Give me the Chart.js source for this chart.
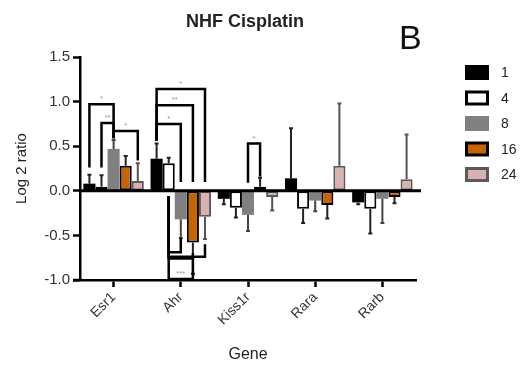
<!DOCTYPE html>
<html>
<head>
<meta charset="utf-8">
<script src="https://cdn.jsdelivr.net/npm/chart.js@4.4.0/dist/chart.umd.min.js"></script>
<style>
  html, body { margin: 0; padding: 0; background: #fff; }
</style>
</head>
<body>
<canvas id="chart" width="528" height="365"></canvas>
<script>
// genes on the x axis, one series per time point (h)
const genes = ["Esr1", "Ahr", "Kiss1r", "Rara", "Rarb"];
const timepoints = ["1", "4", "8", "16", "24"];

const h1 = [0.08, 0.36, -0.09, 0.14, -0.13];
const h4 = [0.045, 0.31, -0.19, -0.2, -0.2];
const h8 = [0.47, -0.32, -0.27, -0.11, -0.09];
const h16 = [0.28, -0.58, 0.045, -0.16, -0.07];
const h24 = [0.11, -0.29, -0.07, 0.28, 0.13];

// one sided error (SEM), drawn away from zero
const h1Err = [0.10, 0.17, 0.06, 0.56, 0.02];
const h4Err = [0.13, 0.06, 0.11, 0.16, 0.28];
const h8Err = [0.10, 0.21, 0.18, 0.12, 0.27];
const h16Err = [0.11, 0.35, 0.10, 0.15, 0.07];
const h24Err = [0.20, 0.25, 0.15, 0.70, 0.50];

const yTicks = [-1.0, -0.5, 0.0, 0.5, 1.0, 1.5];

// significance brackets: gene, from series, to series, line y, from leg end, to leg end, stars
const brackets = [
  [0, 0, 2, 0.97, 0.26, 0.59, "*"],
  [0, 1, 2, 0.76, 0.26, 0.59, "**"],
  [0, 2, 4, 0.67, 0.59, 0.34, "*"],
  [1, 0, 4, 1.14, 0.56, 0.10, "*"],
  [1, 0, 3, 0.96, 0.56, 0.10, "**"],
  [1, 0, 2, 0.75, 0.56, 0.10, "*"],
  [1, 1, 2, -0.69, -0.06, -0.53, ""],
  [1, 1, 4, -0.74, -0.06, -0.60, ""],
  [1, 1, 3, -0.76, -0.06, -0.70, ""],
  [1, 1, 3, -0.99, -0.06, -0.76, "***"],
  [2, 2, 3, 0.53, 0.09, 0.16, "*"]
];

const fills = ["#000000", "#ffffff", "#808080", "#c86400", "#d9b1b0"];
const borders = ["#000000", "#000000", "#808080", "#000000", "#5a5a5a"];
const borderW = [0, 2, 0, 2, 2];
const errColors = ["#222", "#222", "#444", "#222", "#555"];
const series = [h1, h4, h8, h16, h24];
const errors = [h1Err, h4Err, h8Err, h16Err, h24Err];

const FONT = "'Liberation Sans', Arial, sans-serif";

const extras = {
  id: "extras",
  afterDatasetsDraw(chart) {
    const { ctx, scales: { x, y } } = chart;
    ctx.save();
    // error bars
    series.forEach((vals, i) => {
      const meta = chart.getDatasetMeta(i);
      vals.forEach((v, j) => {
        const bx = meta.data[j].x;
        const end = v + (v >= 0 ? errors[i][j] : -errors[i][j]);
        const y0 = y.getPixelForValue(v);
        const y1 = y.getPixelForValue(end);
        ctx.strokeStyle = errColors[i];
        ctx.lineWidth = 2;
        ctx.beginPath();
        ctx.moveTo(bx, y0);
        ctx.lineTo(bx, y1);
        ctx.moveTo(bx - 2, y1);
        ctx.lineTo(bx + 2, y1);
        ctx.stroke();
      });
    });
    // zero line
    const yz = y.getPixelForValue(0);
    ctx.strokeStyle = "#000";
    ctx.lineWidth = 3;
    ctx.beginPath();
    ctx.moveTo(x.left, yz);
    ctx.lineTo(x.right + 5, yz);
    ctx.stroke();
    // brackets
    ctx.lineWidth = 2.5;
    ctx.font = "8px " + FONT;
    ctx.textAlign = "center";
    ctx.textBaseline = "alphabetic";
    brackets.forEach(([g, a, b, ly, ya, yb, txt]) => {
      const xa = chart.getDatasetMeta(a).data[g].x;
      const xb = chart.getDatasetMeta(b).data[g].x;
      const py = y.getPixelForValue(ly);
      ctx.strokeStyle = "#000";
      ctx.beginPath();
      ctx.moveTo(xa, y.getPixelForValue(ya));
      ctx.lineTo(xa, py);
      ctx.lineTo(xb, py);
      ctx.lineTo(xb, y.getPixelForValue(yb));
      ctx.stroke();
      if (txt) {
        ctx.fillStyle = "#999";
        ctx.fillText(txt, (xa + xb) / 2, py - 3);
      }
    });
    ctx.restore();
  },
  afterDraw(chart) {
    const { ctx, chartArea, scales: { x, y } } = chart;
    ctx.save();
    // x axis runs a little past the y axis
    ctx.strokeStyle = "#000";
    ctx.lineWidth = 2.5;
    ctx.beginPath();
    ctx.moveTo(chartArea.left - 7, chartArea.bottom);
    ctx.lineTo(chartArea.left, chartArea.bottom);
    ctx.stroke();

    const cx = (chartArea.left + chartArea.right) / 2;
    ctx.fillStyle = "#222";
    ctx.textAlign = "center";
    ctx.textBaseline = "middle";
    ctx.font = "bold 18px " + FONT;
    ctx.fillText("NHF Cisplatin", cx - 3, 22);

    ctx.font = "16px " + FONT;
    ctx.fillText("Gene", cx, 355);

    ctx.save();
    ctx.translate(22, (chartArea.top + chartArea.bottom) / 2);
    ctx.rotate(-Math.PI / 2);
    ctx.font = "15px " + FONT;
    ctx.fillText("Log 2 ratio", 0, 0);
    ctx.restore();

    ctx.fillStyle = "#111";
    ctx.textAlign = "left";
    ctx.textBaseline = "alphabetic";
    ctx.font = "34px 'Liberation Sans Narrow', " + FONT;
    ctx.fillText("B", 399, 49);

    // legend
    ctx.font = "14px " + FONT;
    ctx.textBaseline = "middle";
    timepoints.forEach((t, i) => {
      const lx = 465, ly = 65 + i * 25.5, w = 24, h = 15;
      ctx.fillStyle = borderW[i] ? borders[i] : fills[i];
      ctx.fillRect(lx, ly, w, h);
      if (borderW[i]) {
        ctx.fillStyle = fills[i];
        ctx.fillRect(lx + 3, ly + 3, w - 6, h - 6);
      }
      ctx.fillStyle = "#222";
      ctx.fillText(t, 501, ly + h / 2 + 1);
    });
    ctx.restore();
  }
};

new Chart(document.getElementById("chart"), {
  type: "bar",
  data: {
    labels: genes,
    datasets: series.map((vals, i) => ({
      label: timepoints[i],
      data: vals,
      backgroundColor: fills[i],
      borderColor: borders[i],
      borderWidth: borderW[i],
      borderSkipped: false,
      categoryPercentage: 0.9,
      barPercentage: 1.0
    }))
  },
  options: {
    responsive: false,
    animation: false,
    devicePixelRatio: 1,
    layout: { padding: { top: 57, right: 112, left: 0, bottom: 0 } },
    plugins: {
      legend: { display: false },
      tooltip: { enabled: false }
    },
    scales: {
      x: {
        afterFit: (s) => { s.height = 85; },
        grid: { offset: false, color: "transparent", tickColor: "#000", tickLength: 7, tickWidth: 2.5 },
        border: { color: "#000", width: 2.5 },
        ticks: {
          color: "#333",
          font: { family: FONT, size: 14 },
          maxRotation: 45,
          minRotation: 45,
          padding: 2
        }
      },
      y: {
        min: -1,
        max: 1.5,
        afterFit: (s) => { s.width = 80; },
        afterBuildTicks: (s) => { s.ticks = yTicks.map((v) => ({ value: v })); },
        grid: { color: "transparent", tickColor: "#000", tickLength: 7, tickWidth: 2.5 },
        border: { color: "#000", width: 2.5 },
        ticks: {
          color: "#333",
          font: { family: FONT, size: 15 },
          padding: 3,
          callback: (v) => Number(v).toFixed(1)
        }
      }
    }
  },
  plugins: [extras]
});
</script>
</body>
</html>
